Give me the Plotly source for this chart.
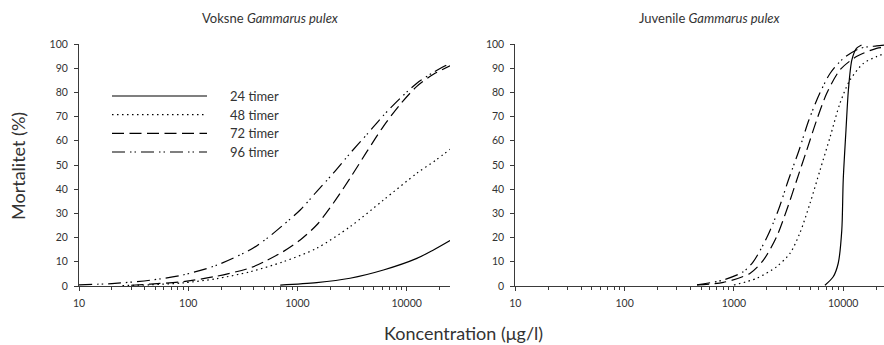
import plotly.graph_objects as go

# Mortality (%) of Gammarus pulex vs. concentration (µg/l) for four exposure times
series_names = ["24 timer", "48 timer", "72 timer", "96 timer"]
series_dash = ["solid", "1.5px,3.5px", "12px,5.5px", "13px,5px,1.5px,3px,1.5px,5px"]

# Adults (Voksne)
adult_conc_24 = [696, 1500, 3030, 6130, 12400, 17600, 25000]
adult_mort_24 = [0.4, 1.4, 3.2, 6.6, 11.4, 14.9, 18.8]

adult_conc_48 = [25, 45, 90, 180, 370, 740, 1500, 3030, 6130, 12400, 18500, 25000]
adult_mort_48 = [0.2, 0.5, 1.3, 3.0, 5.9, 10, 15.6, 24.5, 35.5, 46.6, 52, 56.5]

adult_conc_72 = [30, 45, 90, 180, 370, 520, 740, 1060, 1500, 2130, 3030, 4320, 6130, 8710, 12400, 17600, 25000]
adult_mort_72 = [0.3, 0.8, 1.8, 4.0, 7.5, 10.5, 14.2, 19, 25.2, 34.2, 44.5, 55.5, 66, 75, 82.5, 87.5, 91]

adult_conc_96 = [10, 20, 45, 90, 180, 370, 520, 740, 1060, 1500, 2130, 3030, 4320, 6130, 8710, 12400, 17600, 25000]
adult_mort_96 = [0.5, 1.0, 2.4, 4.6, 8.5, 15, 19.5, 25.2, 31.4, 39, 46.6, 54.8, 62.6, 70.5, 77.5, 83.8, 88.3, 92]

# Juveniles (Juvenile)
juv_conc_24 = [6800, 8100, 9000, 9700, 10000, 10600, 11150, 12000, 13200, 14700]
juv_mort_24 = [0.3, 3.8, 9.4, 23, 43.8, 64.5, 81, 93.4, 98.2, 99.6]

juv_conc_48 = [1000, 1620, 2460, 3260, 4020, 4970, 6140, 7600, 9340, 11500, 15300, 20200, 23600]
juv_mort_48 = [0.4, 3.2, 8, 13.5, 22, 34.2, 47.9, 61.7, 75.5, 85, 92, 94.8, 96]

juv_conc_72 = [460, 800, 1400, 1860, 2460, 3040, 3760, 4640, 5720, 7070, 9340, 13200, 20200, 23600]
juv_mort_72 = [0.5, 1.5, 5.2, 10.7, 20.4, 31.4, 43.8, 56.2, 68.6, 79.6, 89.3, 94.8, 98.2, 98.6]

juv_conc_96 = [460, 800, 1220, 1500, 2000, 2550, 3150, 3950, 4850, 6100, 7600, 10000, 14250, 20200, 23600]
juv_mort_96 = [0.5, 2.5, 5.9, 10, 20, 31.4, 43.8, 56.2, 68.6, 79.6, 87.9, 94, 98.2, 99.2, 99.5]

x_tick_vals = [10, 100, 1000, 10000]
x_tick_text = ["10", "100", "1000", "10000"]
y_tick_vals = list(range(0, 101, 10))

panel_titles = ["Voksne <i>Gammarus pulex</i>", "Juvenile <i>Gammarus pulex</i>"]
y_title = "Mortalitet (%)"
x_title = "Koncentration (\u03bcg/l)"

FONT = "Lato"
INK = "#333333"
AXIS = "#3a3a3a"
W, H = 884, 345

adult = [(adult_conc_24, adult_mort_24), (adult_conc_48, adult_mort_48),
         (adult_conc_72, adult_mort_72), (adult_conc_96, adult_mort_96)]
juvenile = [(juv_conc_24, juv_mort_24), (juv_conc_48, juv_mort_48),
            (juv_conc_72, juv_mort_72), (juv_conc_96, juv_mort_96)]

fig = go.Figure()
for panel, (xa, ya) in ((adult, ("x", "y")), (juvenile, ("x2", "y2"))):
    for (xs, ys), name, dash in zip(panel, series_names, series_dash):
        fig.add_trace(go.Scatter(x=xs, y=ys, name=name, mode="lines",
                                 line=dict(color="black", width=1.2, dash=dash,
                                           shape="spline", smoothing=0.8),
                                 xaxis=xa, yaxis=ya, showlegend=False))

# Key drawn inside the left panel: a line sample and a label per exposure time
key_x0, key_x1, key_text_x = 112, 207, 228
key_rows = [96, 114.7, 133.4, 152]
shapes = []
annotations = []
for name, dash, row in zip(series_names, series_dash, key_rows):
    shapes.append(dict(type="line", xref="paper", yref="paper",
                       x0=key_x0 / W, x1=key_x1 / W, y0=(H - row) / H, y1=(H - row) / H,
                       line=dict(color="black", width=1.2, dash=dash)))
    annotations.append(dict(text=name, x=key_text_x / W, y=(H - row) / H,
                            xref="paper", yref="paper", showarrow=False,
                            xanchor="left", yanchor="middle",
                            font=dict(family=FONT, size=13, color=INK)))

annotations += [
    dict(text=panel_titles[0], x=270 / W, y=(H - 18) / H, xref="paper", yref="paper",
         showarrow=False, font=dict(family=FONT, size=13, color=INK),
         xanchor="center", yanchor="middle"),
    dict(text=panel_titles[1], x=710 / W, y=(H - 18) / H, xref="paper", yref="paper",
         showarrow=False, font=dict(family=FONT, size=13, color=INK),
         xanchor="center", yanchor="middle"),
    dict(text=y_title, x=18 / W, y=(H - 166) / H, xref="paper", yref="paper",
         showarrow=False, textangle=-90, font=dict(family=FONT, size=18, color=INK),
         xanchor="center", yanchor="middle"),
    dict(text=x_title, x=463 / W, y=(H - 333) / H, xref="paper", yref="paper",
         showarrow=False, font=dict(family=FONT, size=18, color=INK),
         xanchor="center", yanchor="middle"),
]

xaxis_common = dict(type="log", tickvals=x_tick_vals, ticktext=x_tick_text,
                    showline=True, linecolor=AXIS, linewidth=1,
                    ticks="outside", ticklen=4, tickcolor=AXIS, tickwidth=1,
                    ticklabelstandoff=3,
                    minor=dict(ticks="outside", ticklen=3, tickcolor=AXIS, dtick="D1"),
                    showgrid=False, zeroline=False,
                    tickfont=dict(family=FONT, size=10.5, color=INK))
yaxis_common = dict(range=[0, 100], tickvals=y_tick_vals,
                    showline=True, linecolor=AXIS, linewidth=1,
                    ticks="outside", ticklen=4, tickcolor=AXIS, tickwidth=1,
                    ticklabelstandoff=4,
                    showgrid=False, zeroline=False,
                    tickfont=dict(family=FONT, size=10.5, color=INK))

y_dom = [(H - 286) / H, (H - 44) / H]

fig.update_layout(
    width=W, height=H,
    margin=dict(l=0, r=0, t=0, b=0, pad=0, autoexpand=False),
    paper_bgcolor="white", plot_bgcolor="white",
    font=dict(family=FONT, color=INK),
    showlegend=False,
    xaxis=dict(domain=[79 / W, 450 / W], range=[1, 4.397], anchor="y", **xaxis_common),
    yaxis=dict(domain=y_dom, anchor="x", **yaxis_common),
    xaxis2=dict(domain=[515.3 / W, 1.0], range=[1, 4.373], anchor="y2", **xaxis_common),
    yaxis2=dict(domain=y_dom, anchor="x2", **yaxis_common),
    shapes=shapes,
    annotations=annotations,
)

fig.write_html("out.html")
